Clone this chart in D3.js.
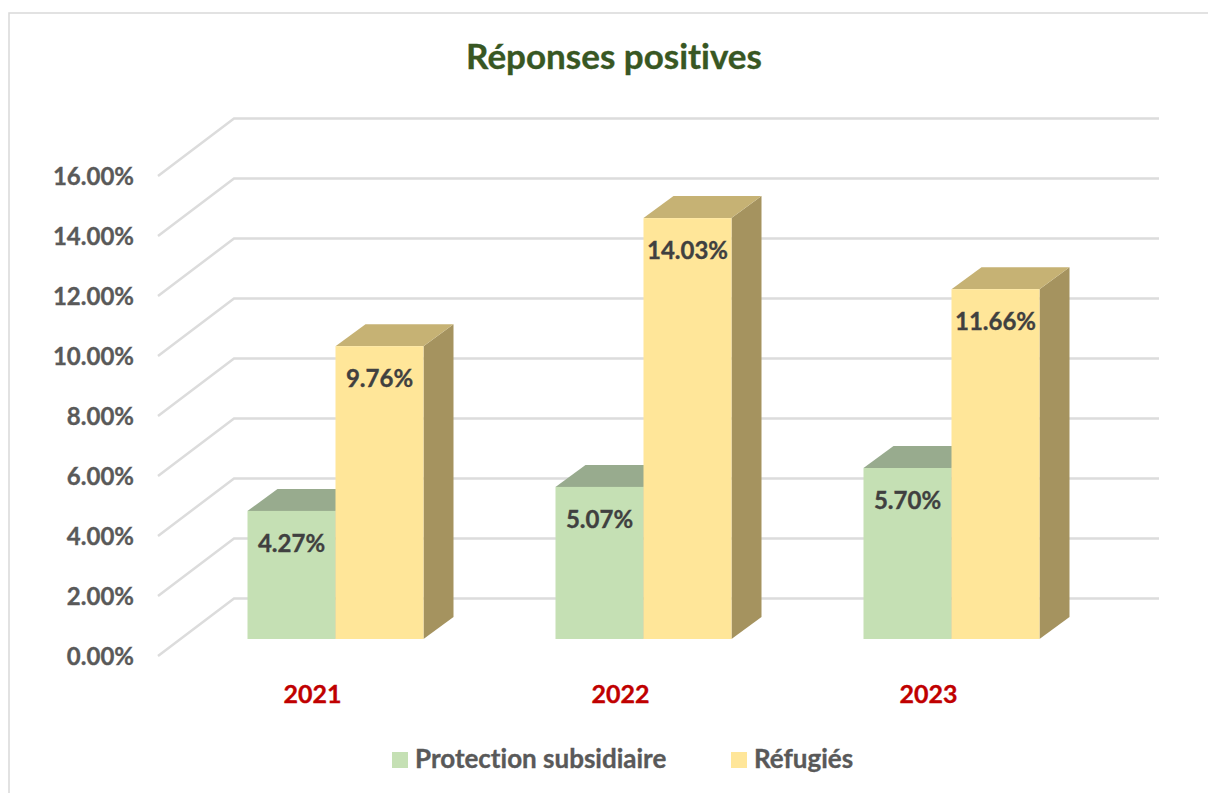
<html>

<head>
    <meta charset="utf-8">
    <script src="https://d3js.org/d3.v7.min.js"></script>
    <style>
        body { margin: 0; background: #fff; }
        svg { display: block; }
        text {
            font-family: Lato, "Open Sans", sans-serif;
            font-weight: 700;
            font-variant-ligatures: none;
            stroke-width: 0.35px;
        }
    </style>
</head>

<body>
    <div id="chart">
        <svg width="1208" height="793"></svg>
    </div>
    <script>
        var years = ['2021', '2022', '2023']
        var seriesNames = ['Protection subsidiaire', 'Réfugiés']
        var protection = [4.27, 5.07, 5.70]
        var refugies = [9.76, 14.03, 11.66]
        var ticks = [0, 2, 4, 6, 8, 10, 12, 14, 16]

        var frontColors = ['#c5e0b4', '#ffe699']
        var topColors = ['#98ab8e', '#c6b274']
        var sideColors = ['#7f8f73', '#a5935f']

        var svg = d3.select('#chart svg')

        // outer frame, runs off the right and bottom of the picture
        svg.append('rect')
            .attr('x', 9)
            .attr('y', 13)
            .attr('width', 1300)
            .attr('height', 900)
            .style('fill', 'none')
            .style('stroke', '#d9d9d9')
            .style('stroke-width', 1.5)

        svg.append('text')
            .attr('x', 614)
            .attr('y', 69)
            .attr('text-anchor', 'middle')
            .style('font-size', '35px')
            .style('fill', '#385723')
            .style('stroke', '#385723')
            .text('Réponses positives')

        // the 3d box: back wall, floor depth and the depth of one bar
        var wallLeft = 234
        var wallRight = 1159
        var floorDx = 76
        var floorDy = 58
        var barDx = 30
        var barDy = 22

        var wallY = d3.scaleLinear().domain([0, 16]).range([598.5, 118.5])
        var axisY = d3.scaleLinear().domain([0, 16]).range([598 + floorDy, 118 + floorDy])
        var barY = d3.scaleLinear().domain([0, 16]).range([639, 159])

        var yearX = d3.scaleBand().domain(years).range([181.5, 1105.5])
        var seriesX = d3.scaleBand().domain(seriesNames).range([0, 176])
        var groupOffset = (yearX.bandwidth() - 176) / 2

        var grid = svg.append('g')
        grid.selectAll('path')
            .data(ticks)
            .enter()
            .append('path')
            .attr('d', function(d) {
                return d3.line()([
                    [wallLeft - floorDx, axisY(d)],
                    [wallLeft, wallY(d)],
                    [wallRight, wallY(d)]
                ])
            })
            .style('fill', 'none')
            .style('stroke', '#dcdcdc')
            .style('stroke-width', 2.5)

        var yAxis = d3.axisLeft(axisY)
            .tickValues(ticks)
            .tickSize(0)
            .tickPadding(0)
            .tickFormat(function(d) { return d3.format('.2f')(d) + '%' })

        var yAxisG = svg.append('g')
            .attr('transform', 'translate(134, 1)')
            .call(yAxis)
        yAxisG.select('.domain').remove()
        yAxisG.selectAll('text')
            .style('font-size', '24px')
            .style('fill', '#595959')
            .style('stroke', '#595959')

        // year labels sit left of the group centre, towards the front of the floor
        var xAxis = d3.axisBottom(yearX).tickSize(0).tickPadding(0)
        var xAxisG = svg.append('g')
            .attr('transform', 'translate(-23, 685)')
            .call(xAxis)
        xAxisG.select('.domain').remove()
        xAxisG.selectAll('text')
            .style('font-size', '25px')
            .style('fill', '#c00000')
            .style('stroke', '#c00000')

        // one row per bar, green first so the yellow bar covers its side
        var bars = []
        years.forEach(function(year, i) {
            bars.push({ year: year, s: 0, value: protection[i] })
            bars.push({ year: year, s: 1, value: refugies[i] })
        })

        function barLeft(d) {
            return yearX(d.year) + groupOffset + seriesX(seriesNames[d.s])
        }

        var barG = svg.selectAll('g.bar')
            .data(bars)
            .enter()
            .append('g')
            .classed('bar', true)

        barG.append('path')
            .attr('d', function(d) {
                var x = barLeft(d) + seriesX.bandwidth()
                return d3.line()([
                    [x, barY(d.value)],
                    [x + barDx, barY(d.value) - barDy],
                    [x + barDx, barY(0) - barDy],
                    [x, barY(0)]
                ]) + 'Z'
            })
            .style('fill', function(d) { return sideColors[d.s] })

        barG.append('path')
            .attr('d', function(d) {
                var x = barLeft(d)
                return d3.line()([
                    [x, barY(d.value)],
                    [x + barDx, barY(d.value) - barDy],
                    [x + seriesX.bandwidth() + barDx, barY(d.value) - barDy],
                    [x + seriesX.bandwidth(), barY(d.value)]
                ]) + 'Z'
            })
            .style('fill', function(d) { return topColors[d.s] })

        barG.append('rect')
            .attr('x', barLeft)
            .attr('y', function(d) { return barY(d.value) })
            .attr('width', seriesX.bandwidth())
            .attr('height', function(d) { return barY(0) - barY(d.value) })
            .style('fill', function(d) { return frontColors[d.s] })

        // labels go on after all bars, the yellow ones would hide them otherwise
        svg.selectAll('text.label')
            .data(bars)
            .enter()
            .append('text')
            .classed('label', true)
            .attr('x', function(d) { return barLeft(d) + seriesX.bandwidth() / 2 })
            .attr('y', function(d) { return barY(d.value) + 41 })
            .attr('text-anchor', 'middle')
            .style('font-size', '24px')
            .style('fill', '#404040')
            .style('stroke', '#404040')
            .text(function(d) { return d3.format('.2f')(d.value) + '%' })

        var legendX = [392, 731]
        var legend = svg.selectAll('g.legend')
            .data(seriesNames)
            .enter()
            .append('g')
            .classed('legend', true)
            .attr('transform', function(d, i) { return 'translate(' + legendX[i] + ', 752)' })

        legend.append('rect')
            .attr('width', 16)
            .attr('height', 16)
            .style('fill', function(d, i) { return frontColors[i] })

        legend.append('text')
            .attr('x', 23)
            .attr('y', 16)
            .style('font-size', '26px')
            .style('fill', '#595959')
            .style('stroke', '#595959')
            .text(function(d) { return d })
    </script>
</body>

</html>
